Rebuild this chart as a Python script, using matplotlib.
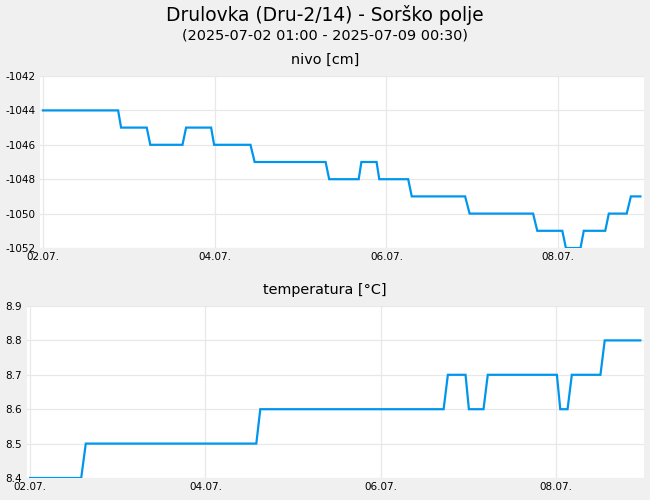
import matplotlib
matplotlib.use('Agg')
import matplotlib.pyplot as plt
import matplotlib.dates as mdates
import pandas as pd

# nivo [cm] - točke preloma krivulje
nivo_cas = ['2025-07-02 00:00', '2025-07-02 21:00', '2025-07-02 21:50', '2025-07-03 05:00',
            '2025-07-03 06:00', '2025-07-03 15:00', '2025-07-03 16:00', '2025-07-03 23:00',
            '2025-07-03 23:50', '2025-07-04 10:00', '2025-07-04 11:10', '2025-07-05 07:00',
            '2025-07-05 08:00', '2025-07-05 16:15', '2025-07-05 17:00', '2025-07-05 21:15',
            '2025-07-05 22:00', '2025-07-06 06:05', '2025-07-06 07:05', '2025-07-06 22:00',
            '2025-07-06 23:15', '2025-07-07 17:00', '2025-07-07 18:10', '2025-07-08 01:10',
            '2025-07-08 02:10', '2025-07-08 06:15', '2025-07-08 07:10', '2025-07-08 13:10',
            '2025-07-08 14:10', '2025-07-08 19:10', '2025-07-08 20:20', '2025-07-08 23:00']
nivo_vred = [-1044, -1044, -1045, -1045, -1046, -1046, -1045, -1045,
             -1046, -1046, -1047, -1047, -1048, -1048, -1047, -1047,
             -1048, -1048, -1049, -1049, -1050, -1050, -1051, -1051,
             -1052, -1052, -1051, -1051, -1050, -1050, -1049, -1049]

# temperatura [°C]
temp_cas = ['2025-07-02 00:00', '2025-07-02 14:00', '2025-07-02 15:15', '2025-07-04 13:55',
            '2025-07-04 15:00', '2025-07-06 17:10', '2025-07-06 18:20', '2025-07-06 23:10',
            '2025-07-07 00:05', '2025-07-07 04:05', '2025-07-07 05:15', '2025-07-08 00:10',
            '2025-07-08 01:05', '2025-07-08 03:05', '2025-07-08 04:15', '2025-07-08 12:05',
            '2025-07-08 13:15', '2025-07-08 23:00']
temp_vred = [8.4, 8.4, 8.5, 8.5, 8.6, 8.6, 8.7, 8.7,
             8.6, 8.6, 8.7, 8.7, 8.6, 8.6, 8.7, 8.7,
             8.8, 8.8]

nivo_ticks = [-1052, -1050, -1048, -1046, -1044, -1042]
temp_ticks = [8.4, 8.5, 8.6, 8.7, 8.8, 8.9]

BARVA = '#0096ee'
OZADJE = '#f0f0f0'
MREZA = '#e8e8e8'
W, H = 650, 500

plt.rcParams['font.family'] = 'DejaVu Sans'
plt.rcParams['axes.unicode_minus'] = False

fig = plt.figure(figsize=(6.5, 5), dpi=100, facecolor=OZADJE)

fig.text(0.5, 1 - 15 / H, 'Drulovka (Dru-2/14) - Sorško polje', ha='center', va='center',
         fontsize=13.4)
fig.text(0.5, 1 - 35 / H, '(2025-07-02 01:00 - 2025-07-09 00:30)', ha='center', va='center',
         fontsize=10.4)


def graf(ax, cas, vred, ticks, naslov, levo_px, sirina_px, naslov_y):
    t = pd.to_datetime(cas)
    ax.set_facecolor('white')
    ax.plot(t, vred, color=BARVA, lw=1.6, solid_joinstyle='miter')
    ax.set_xlim(pd.Timestamp('2025-07-01 23:10'), pd.Timestamp('2025-07-09 00:00'))
    ax.set_ylim(ticks[0], ticks[-1])
    ax.set_yticks(ticks)
    ax.xaxis.set_major_locator(mdates.DayLocator(bymonthday=[2, 4, 6, 8]))
    ax.xaxis.set_major_formatter(mdates.DateFormatter('%d.%m.'))
    ax.grid(True, color=MREZA, lw=0.9)
    ax.set_axisbelow(True)
    for s in ax.spines.values():
        s.set_visible(False)
    ax.tick_params(axis='both', length=0, labelsize=7.5)
    ax.tick_params(axis='x', pad=3)
    ax.tick_params(axis='y', pad=(levo_px - 5) * 72 / 100)
    for lab in ax.get_yticklabels():
        lab.set_ha('left')
    # naslov je centriran na sliko, ne na os
    fig.text(0.5, 1 - naslov_y / H, naslov, ha='center', va='center', fontsize=10.4)


ax1 = fig.add_axes([40 / W, 1 - 248 / H, 604 / W, 172 / H])
graf(ax1, nivo_cas, nivo_vred, nivo_ticks, 'nivo [cm]', 40, 604, 60)
ax2 = fig.add_axes([27 / W, 1 - 478 / H, 617 / W, 172 / H])
graf(ax2, temp_cas, temp_vred, temp_ticks, 'temperatura [°C]', 27, 617, 290)

fig.savefig('out.png', dpi=100, facecolor=OZADJE)
